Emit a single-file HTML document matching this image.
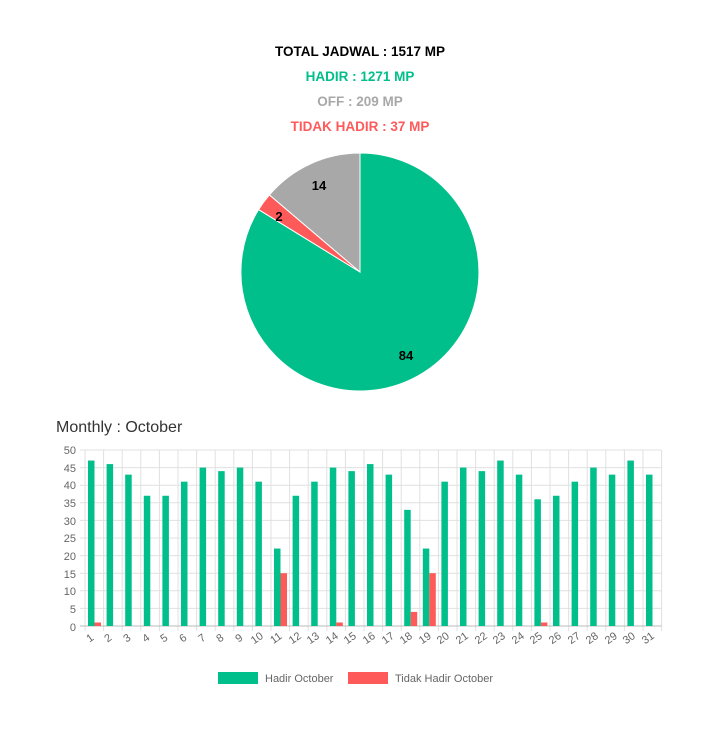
<!DOCTYPE html>
<html><head><meta charset="utf-8"><style>
body{margin:0;background:#fff;width:720px;height:738px;overflow:hidden;font-family:"Liberation Sans",sans-serif}
.t{position:absolute;left:0;width:720px;text-align:center;font-weight:bold;font-size:13.5px}
</style></head><body>
<div class="t" style="top:44px;color:#000">TOTAL JADWAL : 1517 MP</div>
<div class="t" style="top:69px;color:#00bf8a">HADIR : 1271 MP</div>
<div class="t" style="top:94px;color:#a8a8a8">OFF : 209 MP</div>
<div class="t" style="top:119px;color:#ff5a5a">TIDAK HADIR : 37 MP</div>
<svg width="720" height="738" style="position:absolute;left:0;top:0" xmlns="http://www.w3.org/2000/svg">
<g stroke="#fff" stroke-width="1">
<path d="M360,272 L360,153 A119,119 0 1 1 258.6,209.6 Z" fill="#00bf8a"/>
<path d="M360,272 L258.6,209.6 A119,119 0 0 1 269.4,194.9 Z" fill="#ff5a5a"/>
<path d="M360,272 L269.4,194.9 A119,119 0 0 1 360,153 Z" fill="#a8a8a8"/>
</g>
<g font-family="Liberation Sans, sans-serif" font-weight="bold" font-size="13" fill="#000" text-anchor="middle">
<text x="406" y="360">84</text><text x="279" y="221">2</text><text x="319" y="190">14</text>
</g>
<text x="56" y="432" font-family="Liberation Sans, sans-serif" font-size="16" fill="#333">Monthly : October</text>
<g id="grid" stroke="#e0e0e0" stroke-width="1"></g>
<g id="bars"></g>
<g font-family="Liberation Sans, sans-serif" font-size="11" fill="#666" text-anchor="end">
<text x="76" y="454">50</text><text x="76" y="472">45</text><text x="76" y="489">40</text><text x="76" y="507">35</text><text x="76" y="525">30</text><text x="76" y="542">25</text><text x="76" y="560">20</text><text x="76" y="578">15</text><text x="76" y="595">10</text><text x="76" y="613">5</text><text x="76" y="631">0</text>
</g>
<g id="xl" font-family="Liberation Sans, sans-serif" font-size="11" fill="#666" text-anchor="middle">
<text transform="translate(92,641) rotate(-35)">1</text><text transform="translate(110,641) rotate(-35)">2</text><text transform="translate(129,641) rotate(-35)">3</text><text transform="translate(148,641) rotate(-35)">4</text><text transform="translate(166,641) rotate(-35)">5</text><text transform="translate(185,641) rotate(-35)">6</text><text transform="translate(204,641) rotate(-35)">7</text><text transform="translate(222,641) rotate(-35)">8</text><text transform="translate(241,641) rotate(-35)">9</text><text transform="translate(259,641) rotate(-35)">10</text><text transform="translate(278,641) rotate(-35)">11</text><text transform="translate(297,641) rotate(-35)">12</text><text transform="translate(315,641) rotate(-35)">13</text><text transform="translate(334,641) rotate(-35)">14</text><text transform="translate(352,641) rotate(-35)">15</text><text transform="translate(371,641) rotate(-35)">16</text><text transform="translate(390,641) rotate(-35)">17</text><text transform="translate(408,641) rotate(-35)">18</text><text transform="translate(427,641) rotate(-35)">19</text><text transform="translate(445,641) rotate(-35)">20</text><text transform="translate(464,641) rotate(-35)">21</text><text transform="translate(483,641) rotate(-35)">22</text><text transform="translate(501,641) rotate(-35)">23</text><text transform="translate(520,641) rotate(-35)">24</text><text transform="translate(538,641) rotate(-35)">25</text><text transform="translate(557,641) rotate(-35)">26</text><text transform="translate(576,641) rotate(-35)">27</text><text transform="translate(594,641) rotate(-35)">28</text><text transform="translate(613,641) rotate(-35)">29</text><text transform="translate(631,641) rotate(-35)">30</text><text transform="translate(650,641) rotate(-35)">31</text>
</g>
<rect x="218" y="672" width="40" height="12" fill="#00bf8a"/>
<text x="265" y="682" font-family="Liberation Sans, sans-serif" font-size="11" fill="#666">Hadir October</text>
<rect x="348" y="672" width="40" height="12" fill="#ff5a5a"/>
<text x="395" y="682" font-family="Liberation Sans, sans-serif" font-size="11" fill="#666">Tidak Hadir October</text>
</svg>
<script>
var g=[47,46,43,37,37,41,45,44,45,41,22,37,41,45,44,46,43,33,22,41,45,44,47,43,36,37,41,45,43,47,43];
var r={0:1,10:15,13:1,17:4,18:15,24:1};
var ns="http://www.w3.org/2000/svg",L=85,T=450,B=626,W=18.6,s=(B-T)/50;
var gr=document.getElementById('grid'),bs=document.getElementById('bars');
function el(p,a){var e=document.createElementNS(ns,a.t);delete a.t;for(var k in a)e.setAttribute(k,a[k]);p.appendChild(e);}
for(var i=0;i<=10;i++){var y=T+i*(B-T)/10;el(gr,{t:'line',x1:80,x2:661.6,y1:y,y2:y});}
for(var i=0;i<=31;i++){var x=L+i*W;el(gr,{t:'line',x1:x,x2:x,y1:T,y2:B+5});}
el(gr,{t:'line',x1:80,x2:661.6,y1:B,y2:B,stroke:'#bbb'});
for(var i=0;i<31;i++){var x=L+i*W+3;el(bs,{t:'rect',x:x,y:B-g[i]*s,width:6.5,height:g[i]*s,fill:'#00bf8a'});
if(r[i])el(bs,{t:'rect',x:x+6.5,y:B-r[i]*s,width:6.5,height:r[i]*s,fill:'#ff5a5a'});}
</script>
</body></html>
